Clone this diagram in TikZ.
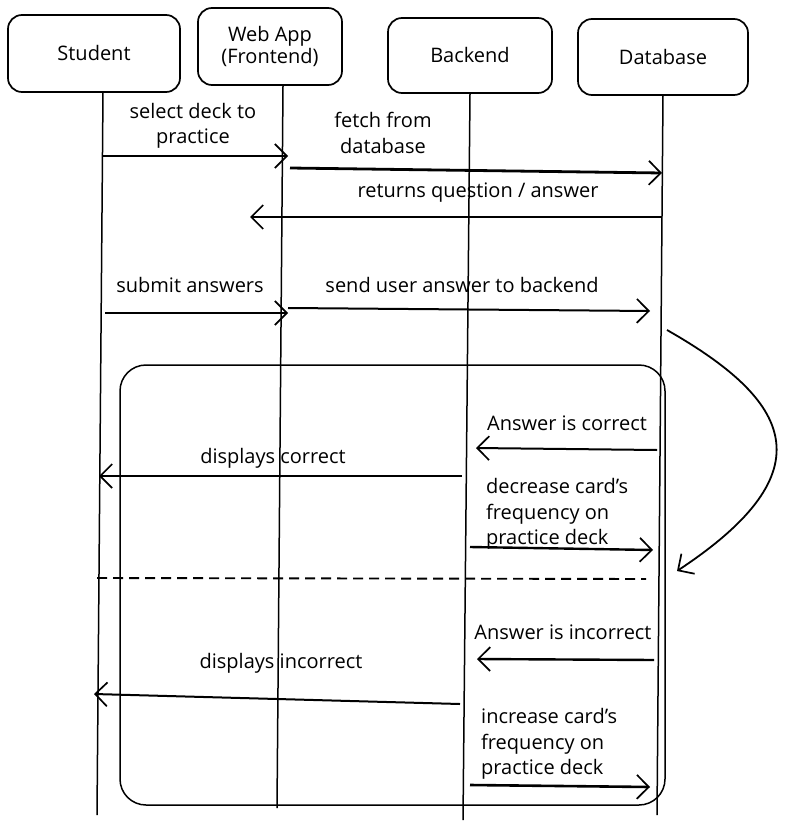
\documentclass[tikz,border=0pt]{standalone}
\usepackage{fontspec}
\setmainfont{Open Sans}
\usetikzlibrary{arrows.meta}
\tikzset{
  actor/.style={draw, line width=1.7pt, rounded corners=14pt, inner sep=0pt, align=center, font=\fontsize{20}{22}\selectfont},
  life/.style={line width=1.5pt},
  msg/.style={line width=2pt, -{Straight Barb[length=12pt,width=24pt,line width=1.7pt]}},
  bigmsg/.style={msg, line width=2.8pt},
  lbl/.style={font=\fontsize{20}{25.5}\selectfont, inner sep=0pt, align=center},
  lbll/.style={lbl, align=left},
  loopbox/.style={draw, line width=1.5pt, rounded corners=26pt, inner sep=0pt},
  sep/.style={line width=1.9pt, dash pattern=on 10pt off 6pt},
}
\begin{document}
\begin{tikzpicture}[x=1pt,y=-1pt]
\useasboundingbox (0,0) rectangle (790,832);
% actors
\node[actor, minimum width=172pt, minimum height=77pt] (stu) at (94,53.5) {Student};
\node[actor, minimum width=144pt, minimum height=77pt] (web) at (270,46.5) {Web App\\(Frontend)};
\node[actor, minimum width=164pt, minimum height=75pt] (be) at (470,55.5) {Backend};
\node[actor, minimum width=170pt, minimum height=76pt] (db) at (663,57) {Database};
% lifelines
\coordinate (s0) at (103,92);  \coordinate (s1) at (97,815);
\coordinate (w0) at (283,86);  \coordinate (w1) at (277,808);
\coordinate (b0) at (470,94);  \coordinate (b1) at (463,820);
\coordinate (d0) at (663,95);  \coordinate (d1) at (657,815);
\draw[life] (s0) -- (s1);
\draw[life] (w0) -- (w1);
\draw[life] (b0) -- (b1);
\draw[life] (d0) -- (d1);
% loop frame
\node[loopbox, minimum width=545pt, minimum height=440pt] (loop) at (392.5,585) {};
% messages
\coordinate (m1a) at (103,156); \coordinate (m1b) at (288,156);
\draw[msg] (m1a) -- (m1b);
\node[lbl] (l1) at (193,126) {select deck to\\practice};
\coordinate (m2a) at (290,168); \coordinate (m2b) at (662,173);
\draw[bigmsg] (m2a) -- (m2b);
\node[lbl] (l2) at (383,133) {fetch from\\database};
\coordinate (m3a) at (662,217); \coordinate (m3b) at (250,217);
\draw[bigmsg] (m3a) -- (m3b);
\node[lbl] (l3) at (478,193) {returns question / answer};
\coordinate (m4a) at (105,313); \coordinate (m4b) at (288,313);
\draw[msg, line width=2.6pt] (m4a) -- (m4b);
\node[lbl] (l4) at (190,285) {submit answers};
\coordinate (m5a) at (288,308); \coordinate (m5b) at (650,311);
\draw[msg] (m5a) -- (m5b);
\node[lbl] (l5) at (462,285) {send user answer to backend};
% curved arrow
\coordinate (c0) at (667,330); \coordinate (c1) at (677,571);
\draw[msg, line width=1.8pt] (c0) .. controls (790,400) and (830,470) .. (c1);
% correct branch
\coordinate (m6a) at (657,450); \coordinate (m6b) at (476,448);
\draw[msg] (m6a) -- (m6b);
\node[lbl] (l6) at (567,423) {Answer is correct};
\coordinate (m7a) at (462,476); \coordinate (m7b) at (99,476);
\draw[msg] (m7a) -- (m7b);
\node[lbl] (l7) at (273,458) {displays correct};
\coordinate (m8a) at (470,547); \coordinate (m8b) at (653,550);
\draw[msg, line width=2.4pt] (m8a) -- (m8b);
\node[lbll, anchor=west] (l8) at (486,514) {decrease card's\\frequency on\\practice deck};
% separator
\coordinate (sp0) at (97,578); \coordinate (sp1) at (646,579);
\draw[sep] (sp0) -- (sp1);
% incorrect branch
\coordinate (m9a) at (654,660); \coordinate (m9b) at (477,659);
\draw[msg, line width=2.4pt] (m9a) -- (m9b);
\node[lbl] (l9) at (563,632) {Answer is incorrect};
\coordinate (m10a) at (460,704); \coordinate (m10b) at (94,694);
\draw[msg] (m10a) -- (m10b);
\node[lbl] (l10) at (281,663) {displays incorrect};
\coordinate (m11a) at (470,785); \coordinate (m11b) at (650,787);
\draw[msg, line width=2.6pt] (m11a) -- (m11b);
\node[lbll, anchor=west] (l11) at (481,744) {increase card's\\frequency on\\practice deck};
\end{tikzpicture}
\end{document}
